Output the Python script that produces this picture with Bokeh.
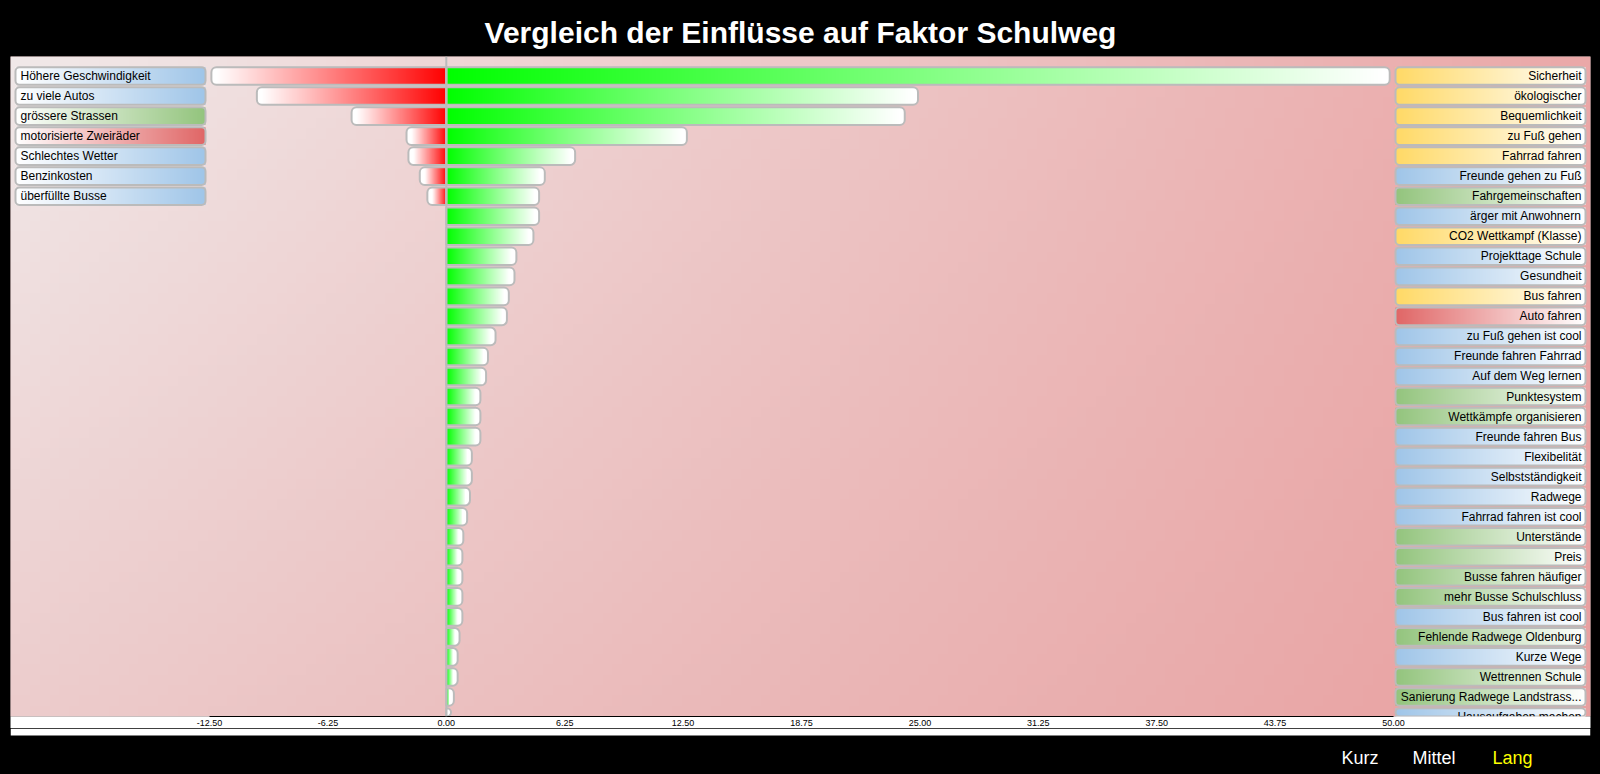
import numpy as np
from bokeh.plotting import figure
from bokeh.layouts import column
from bokeh.models import (Range1d, LinearAxis, FixedTicker, NumeralTickFormatter,
                          Span, ColumnDataSource)
from bokeh.core.properties import value
from bokeh.embed import file_html
from bokeh.resources import INLINE

# ---------------- data ----------------
title_text = "Vergleich der Einflüsse auf Faktor Schulweg"

pos_labels = ["Sicherheit", "ökologischer", "Bequemlichkeit", "zu Fuß gehen", "Fahrrad fahren",
              "Freunde gehen zu Fuß", "Fahrgemeinschaften", "ärger mit Anwohnern",
              "CO2 Wettkampf (Klasse)", "Projekttage Schule", "Gesundheit", "Bus fahren",
              "Auto fahren", "zu Fuß gehen ist cool", "Freunde fahren Fahrrad",
              "Auf dem Weg lernen", "Punktesystem", "Wettkämpfe organisieren",
              "Freunde fahren Bus", "Flexibelität", "Selbstständigkeit", "Radwege",
              "Fahrrad fahren ist cool", "Unterstände", "Preis", "Busse fahren häufiger",
              "mehr Busse Schulschluss", "Bus fahren ist cool", "Fehlende Radwege Oldenburg",
              "Kurze Wege", "Wettrennen Schule", "Sanierung Radwege Landstrass...",
              "Hausaufgaben machen"]
pos_groups = ["gelb", "gelb", "gelb", "gelb", "gelb",
              "blau", "gruen", "blau",
              "gelb", "blau", "blau", "gelb",
              "rot", "blau", "blau",
              "blau", "gruen", "gruen",
              "blau", "blau", "blau", "blau",
              "blau", "gruen", "gruen", "gruen",
              "gruen", "blau", "gruen",
              "blau", "gruen", "gruen",
              "blau"]
pos_values = [49.8, 24.9, 24.2, 12.7, 6.8, 5.2, 4.9, 4.9, 4.6, 3.7, 3.6, 3.3, 3.2, 2.6,
              2.2, 2.1, 1.8, 1.8, 1.8, 1.35, 1.35, 1.25, 1.1, 0.9, 0.85, 0.85, 0.85, 0.85,
              0.7, 0.6, 0.6, 0.4, 0.25]

neg_labels = ["Höhere Geschwindigkeit", "zu viele Autos", "grössere Strassen",
              "motorisierte Zweiräder", "Schlechtes Wetter", "Benzinkosten", "überfüllte Busse"]
neg_groups = ["blau", "blau", "gruen", "rot", "blau", "blau", "blau"]
neg_values = [-12.4, -10.0, -5.0, -2.1, -2.0, -1.4, -1.0]

tick_values = [-12.5, -6.25, 0.0, 6.25, 12.5, 18.75, 25.0, 31.25, 37.5, 43.75, 50.0]

range_options = ["Kurz", "Mittel", "Lang"]
selected_option = "Lang"

group_colors = {"gelb": (255, 217, 102), "blau": (159, 197, 232),
                "gruen": (147, 196, 125), "rot": (224, 102, 102)}

# ---------------- layout helpers ----------------
W, H = 1600, 774
H_MAIN = 728                               # frame bottom (715) + axis panel
H_FOOT = H - H_MAIN
STRIP_BOTTOM = 735                         # white axis strip ends here
FL, FR, FT = 10, 1590, 56                  # frame in screen px
X0_PX, X1_PX = 209, 1393                   # where the axis bounds sit
xmin, xmax = tick_values[0], tick_values[-1]
ppu = (X1_PX - X0_PX) / (xmax - xmin)


def px2x(px):
    return xmin + (px - X0_PX) / ppu


AXIS_PX = 13
FB = H_MAIN - AXIS_PX
ROW_PX = 20.0
FIRST_ROW_CENTER = 75.5
y_top = -(FIRST_ROW_CENTER - FT) / ROW_PX
y_bot = y_top + (FB - FT) / ROW_PX

BAR_H = 0.88
R_PX = 5
r_data = R_PX / ppu


def rgba_img(rows):
    rows = np.asarray(rows, dtype=np.uint8)
    ny, nx = rows.shape[:2]
    img = np.empty((ny, nx), dtype=np.uint32)
    view = img.view(dtype=np.uint8).reshape((ny, nx, 4))
    view[..., :3] = rows[..., :3]
    view[..., 3] = 255
    return img


def hgrad(c0, c1, n=256):
    t = np.linspace(0, 1, n)[:, None]
    c = (1 - t) * np.array(c0, float) + t * np.array(c1, float)
    return rgba_img(np.round(c)[None, :, :])


WHITE = (255, 255, 255)

p = figure(width=W, height=H_MAIN,
           x_range=Range1d(px2x(FL), px2x(FR)), y_range=Range1d(y_bot, y_top),
           output_backend="svg", toolbar_location=None,
           x_axis_location=None, y_axis_location=None,
           min_border_left=FL, min_border_right=W - FR,
           min_border_top=FT, min_border_bottom=0,
           border_fill_color="black", outline_line_color=None,
           background_fill_color="#eccccc")
p.xgrid.visible = False
p.ygrid.visible = False

p.title.text = title_text
p.title.align = "center"
p.title.text_color = "white"
p.title.text_font = "Liberation Sans"
p.title.text_font_size = "30px"
p.title.text_font_style = "bold"
p.title.standoff = 15

# ---------------- background gradient ----------------
ny, nx = 64, 160
u = np.linspace(0, 1, nx)[None, :, None]
v = np.linspace(0, 1, ny)[:, None, None]
TLc = np.array([240, 232, 232], float)
TRc = np.array([234, 168, 168], float)
BLc = np.array([236, 204, 204], float)
BRc = np.array([232, 160, 160], float)
bg = (1 - u) * (1 - v) * TLc + u * (1 - v) * TRc + (1 - u) * v * BLc + u * v * BRc
p.image_rgba(image=[rgba_img(np.round(bg))], x=px2x(FL), y=y_top,
             dw=px2x(FR) - px2x(FL), dh=y_bot - y_top)

# ---------------- bars ----------------
pos_y = list(range(len(pos_values)))
neg_y = list(range(len(neg_values)))

pos_src = ColumnDataSource(dict(y=pos_y, v=pos_values, z=[0.0] * len(pos_values)))
neg_src = ColumnDataSource(dict(y=neg_y, v=neg_values, z=[0.0] * len(neg_values)))

# white underlay with rounded outer ends
p.hbar(y="y", left="z", right="v", height=BAR_H, source=pos_src,
       fill_color="white", line_color=None, border_radius=(0, R_PX, R_PX, 0))
p.hbar(y="y", left="v", right="z", height=BAR_H, source=neg_src,
       fill_color="white", line_color=None, border_radius=(R_PX, 0, 0, R_PX))

# gradient fill
g_pos = hgrad((0, 255, 0), WHITE)
g_neg = hgrad(WHITE, (255, 0, 0))
p.image_rgba(image=[g_pos] * len(pos_values), x=[0.0] * len(pos_values),
             y=[yy - BAR_H / 2 for yy in pos_y],
             dw=[max(val - r_data, 0.01) for val in pos_values], dh=[BAR_H] * len(pos_values))
p.image_rgba(image=[g_neg] * len(neg_values), x=[val + r_data for val in neg_values],
             y=[yy - BAR_H / 2 for yy in neg_y],
             dw=[max(-val - r_data, 0.01) for val in neg_values], dh=[BAR_H] * len(neg_values))

# outlines
p.hbar(y="y", left="z", right="v", height=BAR_H, source=pos_src,
       fill_color=None, line_color="#bbbbbb", line_width=2, border_radius=(0, R_PX, R_PX, 0))
p.hbar(y="y", left="v", right="z", height=BAR_H, source=neg_src,
       fill_color=None, line_color="#bbbbbb", line_width=2, border_radius=(R_PX, 0, 0, R_PX))

p.add_layout(Span(location=0, dimension="height", line_color="#bbbbbb", line_width=2))

# ---------------- label boxes ----------------
LB0, LB1 = px2x(15), px2x(205)
RB0, RB1 = px2x(1395), px2x(1585)

p.image_rgba(image=[hgrad(WHITE, group_colors[g]) for g in neg_groups],
             x=[LB0] * len(neg_groups), y=[yy - BAR_H / 2 for yy in neg_y],
             dw=[LB1 - LB0] * len(neg_groups), dh=[BAR_H] * len(neg_groups))
p.image_rgba(image=[hgrad(group_colors[g], WHITE) for g in pos_groups],
             x=[RB0] * len(pos_groups), y=[yy - BAR_H / 2 for yy in pos_y],
             dw=[RB1 - RB0] * len(pos_groups), dh=[BAR_H] * len(pos_groups))

p.hbar(y=neg_y, left=LB0, right=LB1, height=BAR_H, fill_color=None,
       line_color="#bbbbbb", line_width=2, border_radius=4)
p.hbar(y=pos_y, left=RB0, right=RB1, height=BAR_H, fill_color=None,
       line_color="#bbbbbb", line_width=2, border_radius=4)

p.text(x=[px2x(20)] * len(neg_labels), y=neg_y, text=neg_labels,
       text_font=value("Liberation Sans"), text_font_size="12px", text_color="black",
       text_align="left", text_baseline="middle")
p.text(x=[px2x(1581)] * len(pos_labels), y=pos_y, text=pos_labels,
       text_font=value("Liberation Sans"), text_font_size="12px", text_color="black",
       text_align="right", text_baseline="middle")

# ---------------- axis ----------------
ax = LinearAxis(ticker=FixedTicker(ticks=tick_values),
                formatter=NumeralTickFormatter(format="0.00"),
                bounds=(xmin, xmax),
                major_tick_line_color=None, minor_tick_line_color=None,
                major_tick_out=0, major_tick_in=0,
                axis_line_color="black", axis_line_width=1,
                major_label_text_font="Liberation Sans",
                major_label_text_font_size="9px",
                major_label_text_color="black",
                major_label_standoff=3)
ax.background_fill_color = "white"
p.add_layout(ax, "below")

# ---------------- footer: rest of the white strip + range selector texts ----------------
# (the column aligns this figure's frame with the main frame: x from FL to FR)
foot = figure(width=W, height=H_FOOT, x_range=Range1d(FL, FR), y_range=Range1d(H_FOOT, 0),
              output_backend="svg", toolbar_location=None, title_location=None,
              x_axis_location=None, y_axis_location=None,
              min_border_left=FL, min_border_right=W - FR,
              min_border_top=0, min_border_bottom=0,
              border_fill_color="black", background_fill_color="black",
              outline_line_color=None)
foot.xgrid.visible = False
foot.ygrid.visible = False
foot.quad(left=FL, right=FR, top=0, bottom=STRIP_BOTTOM - H_MAIN,
          fill_color="white", line_color=None)
foot.text(x=[1341, 1412, 1492], y=[757 - H_MAIN] * len(range_options), text=range_options,
          text_font=value("Liberation Sans"), text_font_size="18px",
          text_color=["yellow" if n == selected_option else "white" for n in range_options],
          text_align="left", text_baseline="alphabetic")

layout = column(p, foot, spacing=0, styles={"background-color": "black"})
open("out.html", "w").write(file_html(layout, INLINE))
